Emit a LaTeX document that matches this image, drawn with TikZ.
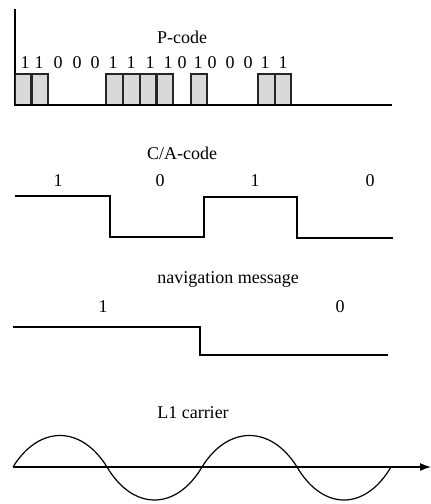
\documentclass[tikz,border=0pt]{standalone}
\usepackage{fontspec}
\setmainfont{Liberation Serif}
\usetikzlibrary{arrows.meta}
\begin{document}
\begin{tikzpicture}[x=1pt,y=-1pt,
  lbl/.style={font=\fontsize{18}{20}\selectfont, inner sep=0pt, anchor=base},
  wave/.style={line width=1.2pt, line join=miter},
  chip/.style={draw=black!85, line width=1.6pt, fill=gray!30}]
\useasboundingbox (0,0) rectangle (431,504);

% P-code
\node[lbl] (ptitle) at (182,43) {P-code};
\draw[line width=1.4pt] (15,9) -- (15,105);
\foreach \a/\b in {15.5/31.2,32/48,106/122.5,123.2/139.5,140.2/156,157/173,191/207,258/274.3,275/291}
  \draw[chip] (\a,105) rectangle (\b,74);
\draw[line width=2.4pt] (14.3,105) -- (392,105);
\foreach \x/\d [count=\i] in {25/1,39/1,58/0,77/0,95/0,113/1,131/1,150/1,168/1,182/0,198/1,212/0,230/0,248/0,265/1,283/1}
  \node[lbl] (pbit\i) at (\x,68) {\d};

% C/A-code
\node[lbl] (catitle) at (182,159) {C/A-code};
\node[lbl] (ca1) at (58,186) {1};
\node[lbl] (ca2) at (160,186) {0};
\node[lbl] (ca3) at (255,186) {1};
\node[lbl] (ca4) at (370,186) {0};
\draw[wave] (15,196) -- (110,196) -- (110,237) -- (204,237) -- (204,197) -- (297,197) -- (297,238) -- (393,238);

% navigation message
\node[lbl] (navtitle) at (228,283) {navigation message};
\node[lbl] (nav1) at (103,312) {1};
\node[lbl] (nav2) at (340,312) {0};
\draw[wave] (13,327) -- (200,327) -- (200,355) -- (388,355);

% L1 carrier
\node[lbl] (l1title) at (193,418) {L1 carrier};
\coordinate (c0) at (13,467);
\coordinate (c1) at (107,467);
\coordinate (c2) at (202,467);
\coordinate (c3) at (297,467);
\coordinate (c4) at (391,467);
\draw[line width=1.2pt, -{Latex[length=11pt,width=8pt]}] (c0) -- (431,467);
\draw[line width=1.2pt]
  (c0) .. controls ([xshift=26pt,yshift=42pt]c0) and ([xshift=-26pt,yshift=42pt]c1) .. (c1)
       .. controls ([xshift=26pt,yshift=-44pt]c1) and ([xshift=-26pt,yshift=-44pt]c2) .. (c2)
       .. controls ([xshift=26pt,yshift=42pt]c2) and ([xshift=-26pt,yshift=42pt]c3) .. (c3)
       .. controls ([xshift=26pt,yshift=-44pt]c3) and ([xshift=-26pt,yshift=-44pt]c4) .. (c4);
\end{tikzpicture}
\end{document}
